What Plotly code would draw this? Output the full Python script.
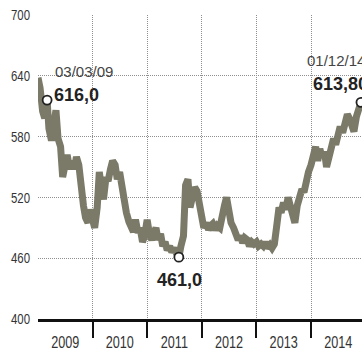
import plotly.graph_objects as go

# ---- data (half-monthly readings: 1st and 15th of each month) ----
years = [2009, 2010, 2011, 2012, 2013, 2014]
v2009 = [638, 628, 605, 598, 614, 588, 576, 590, 606, 578, 570, 540,
         552, 562, 548, 556, 548, 560, 552, 530, 512, 500, 495, 508]
v2010 = [500, 490, 510, 545, 530, 518, 540, 536, 548, 556, 552, 538,
         545, 530, 515, 505, 496, 492, 486, 498, 485, 490, 476, 482]
v2011 = [498, 485, 478, 485, 490, 478, 484, 472, 476, 468, 472, 466,
         470, 465, 461, 472, 482, 532, 538, 510, 522, 530, 526, 515]
v2012 = [505, 490, 495, 488, 492, 494, 488, 492, 490, 505, 512, 520,
         505, 495, 490, 485, 478, 482, 475, 480, 478, 472, 476, 474]
v2013 = [476, 472, 474, 472, 476, 470, 473, 470, 474, 490, 510, 505,
         515, 508, 520, 512, 500, 495, 512, 520, 528, 525, 538, 545]
v2014 = [552, 565, 570, 556, 568, 560, 565, 550, 558, 570, 578, 572,
         585, 590, 584, 596, 602, 598, 590, 585, 600, 608]

# highlighted points
hl_dates = ["2009-03-03", "2011-08-01", "2014-12-01"]
hl_values = [616.0, 461.0, 613.8]
hl_date_labels = ["03/03/09", "", "01/12/14"]
hl_value_labels = ["616,0", "461,0", "613,80"]

y_ticks = [400, 460, 520, 580, 640, 700]
year_labels = ["2009", "2010", "2011", "2012", "2013", "2014"]

# ---- build series ----
pts = {}
for yr, vals in zip(years, [v2009, v2010, v2011, v2012, v2013, v2014]):
    for i, v in enumerate(vals):
        m = i // 2 + 1
        d = 1 if i % 2 == 0 else 15
        pts[f"{yr}-{m:02d}-{d:02d}"] = v
for d, v in zip(hl_dates, hl_values):
    pts[d] = v
dates = sorted(pts.keys())
values = [pts[d] for d in dates]

FONT = "Liberation Sans, Arial, sans-serif"
GRID = "#8f8f8f"

fig = go.Figure()
fig.add_trace(go.Scatter(
    x=dates, y=values, mode="lines",
    line=dict(color="#7b7a69", width=7),
    hoverinfo="skip", showlegend=False,
))
fig.add_trace(go.Scatter(
    x=hl_dates, y=hl_values, mode="markers",
    marker=dict(size=9, color="white", line=dict(color="#222222", width=1.8)),
    hoverinfo="skip", showlegend=False,
))

ann = []
ann.append(dict(x=hl_dates[0], y=hl_values[0], xref="x", yref="y", text=hl_date_labels[0],
                showarrow=False, xanchor="left", yanchor="middle", xshift=6, yshift=29,
                font=dict(family=FONT, size=15, color="#444444")))
ann.append(dict(x=hl_dates[0], y=hl_values[0], xref="x", yref="y", text="<b>" + hl_value_labels[0] + "</b>",
                showarrow=False, xanchor="left", yanchor="middle", xshift=5, yshift=5,
                font=dict(family=FONT, size=18, color="#222222")))
ann.append(dict(x=hl_dates[1], y=hl_values[1], xref="x", yref="y", text="<b>" + hl_value_labels[1] + "</b>",
                showarrow=False, xanchor="center", yanchor="middle", xshift=1, yshift=-23,
                font=dict(family=FONT, size=18, color="#222222")))
ann.append(dict(x=hl_dates[2], y=hl_values[2], xref="x", yref="y", text=hl_date_labels[2],
                showarrow=False, xanchor="left", yanchor="middle", xshift=-56, yshift=42,
                font=dict(family=FONT, size=15, color="#444444")))
ann.append(dict(x=hl_dates[2], y=hl_values[2], xref="x", yref="y", text="<b>" + hl_value_labels[2] + "</b>",
                showarrow=False, xanchor="left", yanchor="middle", xshift=-50, yshift=18,
                font=dict(family=FONT, size=18, color="#222222")))

fig.update_layout(
    width=362, height=353,
    margin=dict(l=38, r=0, t=15, b=34, autoexpand=False),
    plot_bgcolor="white", paper_bgcolor="white",
    annotations=ann,
    xaxis=dict(
        type="date",
        range=["2009-01-01", "2014-12-08"],
        automargin=False,
        tickmode="array",
        tickvals=[f"{y}-07-02" for y in years],
        ticktext=year_labels,
        ticks="", showgrid=False,
        showline=True, linecolor="#111111", linewidth=3,
        ticklabelstandoff=7,
        tickfont=dict(family=FONT, size=16, color="#333333"),
        minor=dict(
            tickmode="array",
            tickvals=[f"{y}-01-01" for y in years[1:]],
            ticks="outside", ticklen=16, tickwidth=2, tickcolor="#111111",
            showgrid=True, gridcolor=GRID, gridwidth=1, griddash="1px,1px",
        ),
        zeroline=False,
    ),
    yaxis=dict(
        range=[400, 700],
        automargin=False,
        tickmode="array",
        tickvals=y_ticks,
        ticktext=[str(v) for v in y_ticks],
        ticks="", showline=False, zeroline=False,
        showgrid=True, gridcolor=GRID, gridwidth=1, griddash="1px,1px",
        ticklabelstandoff=7,
        tickfont=dict(family=FONT, size=15, color="#333333"),
    ),
)

post = """
document.body.style.margin = '0';
var gd = document.getElementById('{plot_id}');
function squeeze(sel, f) {
  gd.querySelectorAll(sel).forEach(function (t) {
    var w = t.getComputedTextLength();
    if (w > 0) {
      t.setAttribute('textLength', (w * f).toFixed(2));
      t.setAttribute('lengthAdjust', 'spacingAndGlyphs');
    }
  });
}
squeeze('.xtick text', 0.79);
squeeze('.ytick text', 0.76);
"""

fig.write_html("out.html", post_script=post, config={"displayModeBar": False, "staticPlot": True})
